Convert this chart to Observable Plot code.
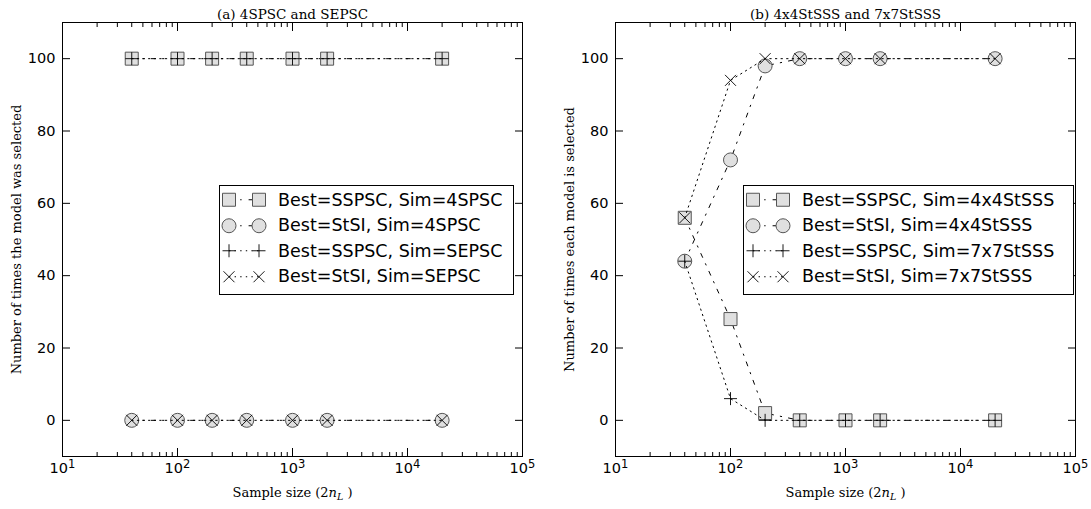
<!DOCTYPE html>
<html>
<head>
<meta charset="utf-8">
<script src="https://cdn.jsdelivr.net/npm/d3@7"></script>
<script src="https://cdn.jsdelivr.net/npm/@observablehq/plot@0.6"></script>
<style>
  body { margin: 0; background: #fff; }
  #wrap { position: relative; width: 1091px; height: 509px; overflow: hidden; background: #fff; }
  .panel { position: absolute; top: 0; }
  .legend { position: absolute; box-sizing: border-box; border: 1px solid #000; background: #fff;
            font-family: "DejaVu Sans", sans-serif; font-size: 17.5px; color: #000; padding: 1px 0 0 0; }
  .row { display: flex; align-items: center; height: 25.5px; white-space: nowrap; }
  .row svg { flex: none; }
</style>
</head>
<body>
<div id="wrap"></div>
<script>
// ---------------- data ----------------
const sampleSizes = [40, 100, 200, 400, 1000, 2000, 20000];

// Panel (a) 4SPSC and SEPSC
const titleA = "(a) 4SPSC and SEPSC";
const yLabelA = "Number of times the model was selected";
const labelsA = ["Best=SSPSC, Sim=4SPSC", "Best=StSI, Sim=4SPSC", "Best=SSPSC, Sim=SEPSC", "Best=StSI, Sim=SEPSC"];
const aSquare = [100, 100, 100, 100, 100, 100, 100];
const aCircle = [0, 0, 0, 0, 0, 0, 0];
const aPlus   = [100, 100, 100, 100, 100, 100, 100];
const aTimes  = [0, 0, 0, 0, 0, 0, 0];

// Panel (b) 4x4StSSS and 7x7StSSS
const titleB = "(b) 4x4StSSS and 7x7StSSS";
const yLabelB = "Number of times each model is selected";
const labelsB = ["Best=SSPSC, Sim=4x4StSSS", "Best=StSI, Sim=4x4StSSS", "Best=SSPSC, Sim=7x7StSSS", "Best=StSI, Sim=7x7StSSS"];
const bSquare = [56, 28, 2, 0, 0, 0, 0];
const bCircle = [44, 72, 98, 100, 100, 100, 100];
const bPlus   = [44, 6, 0, 0, 0, 0, 0];
const bTimes  = [56, 94, 100, 100, 100, 100, 100];

const xLabel = "Sample size (2n_L )";
const yTicks = [0, 20, 40, 60, 80, 100];
const xMajor = [10, 100, 1000, 10000, 100000];
const yDomain = [-10, 110];
const xDomain = [10, 100000];

// ---------------- styles ----------------
const DASHDOT = "4.2,7,1.4,7";
const DOTTED = "1.4,4.2";
const MFILL = "#e0e0e0";
const MSTROKE = "#555";

const xMinor = [];
for (let k = 1; k < 5; k++) for (let m = 2; m < 10; m++) xMinor.push(m * Math.pow(10, k));

// custom symbols (half-size = r)
const symSquare = { draw(c, size) { const h = Math.sqrt(size / Math.PI); c.rect(-h, -h, 2 * h, 2 * h); } };
const symPlus = { draw(c, size) { const h = Math.sqrt(size / Math.PI); c.moveTo(-h, 0); c.lineTo(h, 0); c.moveTo(0, -h); c.lineTo(0, h); } };
const symTimes = { draw(c, size) { const h = Math.sqrt(size / Math.PI); c.moveTo(-h, -h); c.lineTo(h, h); c.moveTo(-h, h); c.lineTo(h, -h); } };

const seriesStyle = [
  { symbol: symSquare, r: 6.5, fill: MFILL, stroke: MSTROKE, dash: DASHDOT, sw: 1 },
  { symbol: "circle", r: 7, fill: MFILL, stroke: MSTROKE, dash: DASHDOT, sw: 1 },
  { symbol: symPlus, r: 6.5, fill: "none", stroke: "#000", dash: DOTTED, sw: 0.9 },
  { symbol: symTimes, r: 5.5, fill: "none", stroke: "#000", dash: DOTTED, sw: 0.9 }
];

function seriesMarks(vals, st) {
  const data = sampleSizes.map((x, i) => ({ x, y: vals[i] }));
  return [
    Plot.line(data, { x: "x", y: "y", stroke: "#000", strokeWidth: 1, strokeDasharray: st.dash }),
    Plot.dot(data, { x: "x", y: "y", symbol: st.symbol, r: st.r, fill: st.fill, stroke: st.stroke, strokeWidth: st.sw })
  ];
}

function makePanel(series, title, yLabel, mLeft, mRight, width) {
  const tickFont = { fontSize: 14.5, fontFamily: "DejaVu Sans" };
  return Plot.plot({
    width, height: 509,
    marginLeft: mLeft, marginRight: mRight, marginTop: 22, marginBottom: 53,
    style: { fontFamily: "DejaVu Sans", fontSize: "14.5px", color: "#000", background: "#fff", overflow: "visible" },
    x: { type: "log", domain: xDomain, axis: null, label: null },
    y: { domain: yDomain, axis: null, label: null },
    marks: [
      ...series.flatMap((vals, i) => seriesMarks(vals, seriesStyle[i])),
      Plot.frame({ stroke: "#000", strokeWidth: 1 }),
      Plot.axisY(yTicks, { anchor: "left", tickSize: -8, tickPadding: 15, label: null, ...tickFont }),
      Plot.axisY(yTicks, { anchor: "right", tickSize: -8, tickFormat: () => "", label: null }),
      Plot.axisX(xMajor, { anchor: "bottom", tickSize: -8, tickPadding: 14, tickFormat: d => "10^" + Math.round(Math.log10(d)), label: null, ...tickFont }),
      Plot.axisX(xMinor, { anchor: "bottom", tickSize: -4, tickFormat: () => "", label: null }),
      Plot.axisX(xMajor, { anchor: "top", tickSize: -8, tickFormat: () => "", label: null }),
      Plot.axisX(xMinor, { anchor: "top", tickSize: -4, tickFormat: () => "", label: null }),
      Plot.text([title], { text: d => d, frameAnchor: "top", dy: -13, fontFamily: "DejaVu Serif", fontSize: 13.5, fill: "#000" }),
      Plot.text([yLabel], { text: d => d, frameAnchor: "left", textAnchor: "middle", lineAnchor: "middle", rotate: -90, dx: -46, fontFamily: "DejaVu Serif", fontSize: 13, fill: "#000" }),
      Plot.text([xLabel], { text: d => d, frameAnchor: "bottom", textAnchor: "middle", dy: 40, fontFamily: "DejaVu Serif", fontSize: 13, fill: "#000" })
    ]
  });
}

function postProcess(svg) {
  d3.select(svg).selectAll("text").each(function () {
    const t = this.textContent;
    const m = /^10\^(\d)$/.exec(t);
    if (m) {
      const el = d3.select(this);
      el.text("");
      el.append("tspan").text("10");
      el.append("tspan").attr("dy", "-0.45em").attr("font-size", "11.5px").text(m[1]);
    } else if (t === xLabel) {
      const el = d3.select(this);
      el.text("");
      el.append("tspan").text("Sample size (2");
      el.append("tspan").attr("font-style", "italic").text("n");
      el.append("tspan").attr("font-style", "italic").attr("font-size", "9.5px").attr("dy", "3").text("L");
      el.append("tspan").attr("dy", "-3").text(" )");
    }
  });
}

function legendSample(st) {
  const W = 58, H = 25.5, cy = H / 2, x1 = 9, x2 = 39;
  const svg = d3.create("svg").attr("width", W).attr("height", H);
  svg.append("line").attr("x1", x1).attr("x2", x2).attr("y1", cy).attr("y2", cy)
    .attr("stroke", "#000").attr("stroke-width", 1).attr("stroke-dasharray", st.dash);
  for (const cx of [x1, x2]) {
    const p = d3.path();
    if (st.symbol === "circle") {
      svg.append("circle").attr("cx", cx).attr("cy", cy).attr("r", st.r)
        .attr("fill", st.fill).attr("stroke", st.stroke).attr("stroke-width", st.sw);
    } else {
      st.symbol.draw(p, Math.PI * st.r * st.r);
      svg.append("path").attr("d", p.toString()).attr("transform", `translate(${cx},${cy})`)
        .attr("fill", st.fill).attr("stroke", st.stroke).attr("stroke-width", st.sw);
    }
  }
  return svg.node();
}

function makeLegend(labels, left, top, width, height) {
  const div = document.createElement("div");
  div.className = "legend";
  Object.assign(div.style, { left: left + "px", top: top + "px", width: width + "px", height: height + "px" });
  labels.forEach((lab, i) => {
    const row = document.createElement("div");
    row.className = "row";
    row.appendChild(legendSample(seriesStyle[i]));
    const span = document.createElement("span");
    span.textContent = lab;
    row.appendChild(span);
    div.appendChild(row);
  });
  return div;
}

const wrap = document.getElementById("wrap");
const pA = makePanel([aSquare, aCircle, aPlus, aTimes], titleA, yLabelA, 62, 23, 545);
const pB = makePanel([bSquare, bCircle, bPlus, bTimes], titleB, yLabelB, 70, 16, 546);
postProcess(pA); postProcess(pB);
const dA = document.createElement("div"); dA.className = "panel"; dA.style.left = "0px"; dA.appendChild(pA);
const dB = document.createElement("div"); dB.className = "panel"; dB.style.left = "545px"; dB.appendChild(pB);
wrap.appendChild(dA); wrap.appendChild(dB);
wrap.appendChild(makeLegend(labelsA, 219, 185, 295, 110));
wrap.appendChild(makeLegend(labelsB, 743, 185, 331, 110));
</script>
</body>
</html>
